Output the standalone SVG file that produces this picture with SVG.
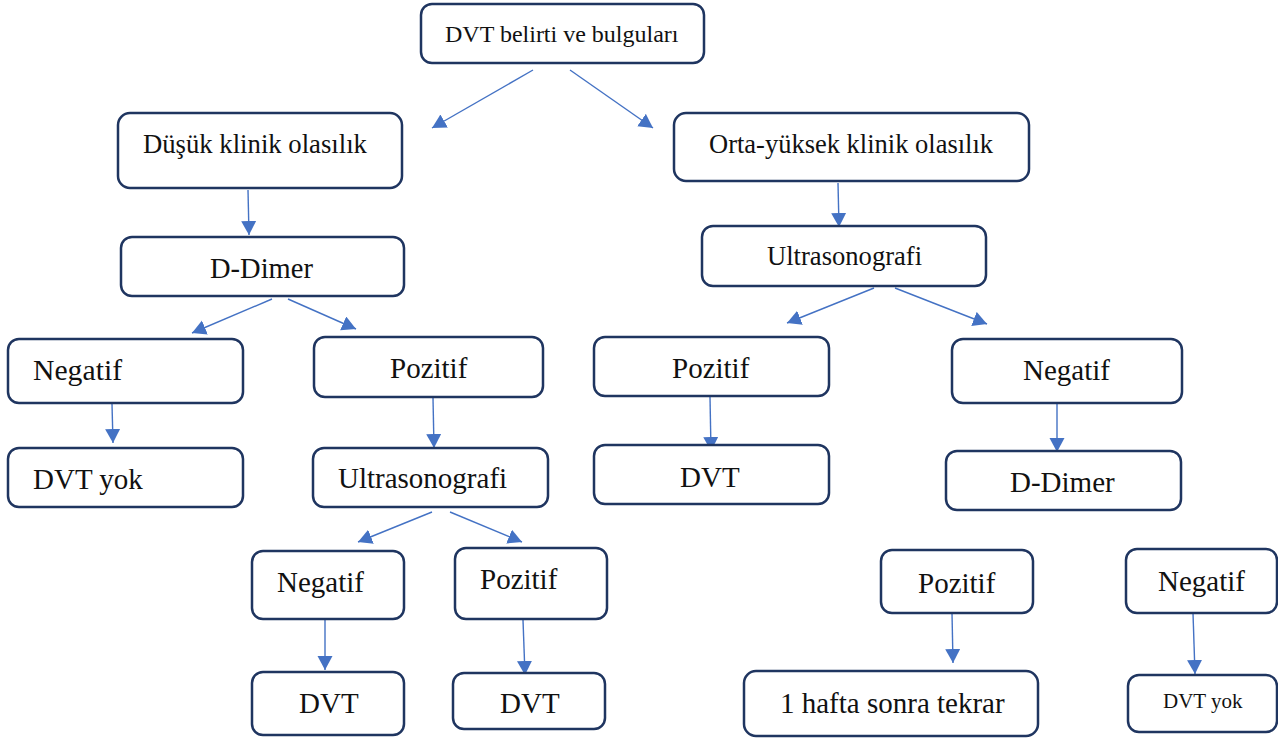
<svg xmlns="http://www.w3.org/2000/svg" width="1278" height="740" viewBox="0 0 1278 740">
<style>
.box{fill:#fff;stroke:#1f3560;stroke-width:2.5}
.t{font-family:'Liberation Serif','Tinos','DejaVu Serif','Noto Serif',serif;fill:#111;font-size:29px}
.c{stroke:#4472c4;stroke-width:1.4;fill:none;marker-end:url(#ah)}
</style>
<defs>
<marker id="ah" markerUnits="userSpaceOnUse" markerWidth="16" markerHeight="16" refX="14" refY="7.5" orient="auto">
<path d="M0,0 L14,7.5 L0,15 z" fill="#4472c4"/>
</marker>
</defs>
<rect width="1278" height="740" fill="#fff"/>
<g id="connectors">
<line class="c" x1="533" y1="70" x2="432" y2="128"/>
<line class="c" x1="570" y1="70" x2="653" y2="128"/>
<line class="c" x1="248" y1="190" x2="249" y2="235"/>
<line class="c" x1="272" y1="299" x2="192" y2="333"/>
<line class="c" x1="288" y1="299" x2="356" y2="329"/>
<line class="c" x1="112" y1="404" x2="113" y2="443"/>
<line class="c" x1="433" y1="398" x2="434" y2="448"/>
<line class="c" x1="432" y1="512" x2="358" y2="542"/>
<line class="c" x1="450" y1="512" x2="522" y2="542"/>
<line class="c" x1="325" y1="620" x2="325" y2="670"/>
<line class="c" x1="523" y1="620" x2="525" y2="675"/>
<line class="c" x1="838" y1="183" x2="839" y2="227"/>
<line class="c" x1="874" y1="288" x2="787" y2="323"/>
<line class="c" x1="895" y1="288" x2="987" y2="324"/>
<line class="c" x1="710" y1="397" x2="711" y2="451"/>
<line class="c" x1="1057" y1="404" x2="1057" y2="452"/>
<line class="c" x1="952" y1="613" x2="953" y2="663"/>
<line class="c" x1="1193" y1="613" x2="1195" y2="674"/>
</g>
<g id="n1"><rect class="box" x="421" y="4" width="283" height="59" rx="11"/><text class="t" x="445" y="42" font-family="Liberation Serif, serif" style="font-size:24px">DVT belirti ve bulguları</text></g>
<g id="n2"><rect class="box" x="118" y="113" width="284" height="75" rx="12"/><text class="t" x="143" y="153" style="font-size:26.7px">Düşük klinik olasılık</text></g>
<g id="n3"><rect class="box" x="674" y="113" width="355" height="68" rx="12"/><text class="t" x="709" y="153" style="font-size:26.5px">Orta-yüksek klinik olasılık</text></g>
<g id="n4"><rect class="box" x="121" y="237" width="283" height="59" rx="11"/><text class="t" x="210" y="278" style="font-size:28.5px">D-Dimer</text></g>
<g id="n5"><rect class="box" x="702" y="226" width="284" height="60" rx="11"/><text class="t" x="767" y="265" style="font-size:26.6px">Ultrasonografi</text></g>
<g id="n6"><rect class="box" x="8" y="339" width="235" height="64" rx="11"/><text class="t" x="33" y="380" style="font-size:29.7px">Negatif</text></g>
<g id="n7"><rect class="box" x="314" y="337" width="229" height="60" rx="11"/><text class="t" x="390" y="378">Pozitif</text></g>
<g id="n8"><rect class="box" x="594" y="337" width="235" height="59" rx="11"/><text class="t" x="672" y="378">Pozitif</text></g>
<g id="n9"><rect class="box" x="952" y="339" width="230" height="64" rx="11"/><text class="t" x="1023" y="380">Negatif</text></g>
<g id="n10"><rect class="box" x="8" y="448" width="235" height="59" rx="11"/><text class="t" x="33" y="489">DVT yok</text></g>
<g id="n11"><rect class="box" x="313" y="448" width="235" height="59" rx="11"/><text class="t" x="338" y="488">Ultrasonografi</text></g>
<g id="n12"><rect class="box" x="594" y="445" width="235" height="59" rx="11"/><text class="t" x="680" y="487">DVT</text></g>
<g id="n13"><rect class="box" x="946" y="451" width="235" height="59" rx="11"/><text class="t" x="1010" y="492">D-Dimer</text></g>
<g id="n14"><rect class="box" x="252" y="551" width="152" height="68" rx="11"/><text class="t" x="277" y="592">Negatif</text></g>
<g id="n15"><rect class="box" x="455" y="548" width="152" height="71" rx="11"/><text class="t" x="480" y="589">Pozitif</text></g>
<g id="n16"><rect class="box" x="252" y="672" width="152" height="63" rx="11"/><text class="t" x="299" y="713">DVT</text></g>
<g id="n17"><rect class="box" x="453" y="673" width="152" height="56" rx="11"/><text class="t" x="500" y="713">DVT</text></g>
<g id="n18"><rect class="box" x="881" y="550" width="152" height="63" rx="11"/><text class="t" x="918" y="593">Pozitif</text></g>
<g id="n19"><rect class="box" x="1126" y="549" width="151" height="64" rx="11"/><text class="t" x="1158" y="591">Negatif</text></g>
<g id="n20"><rect class="box" x="744" y="671" width="294" height="65" rx="12"/><text class="t" x="780" y="713">1 hafta sonra tekrar</text></g>
<g id="n21"><rect class="box" x="1128" y="675" width="149" height="57" rx="11"/><text class="t" x="1163" y="708" style="font-size:21px">DVT yok</text></g>
</svg>
